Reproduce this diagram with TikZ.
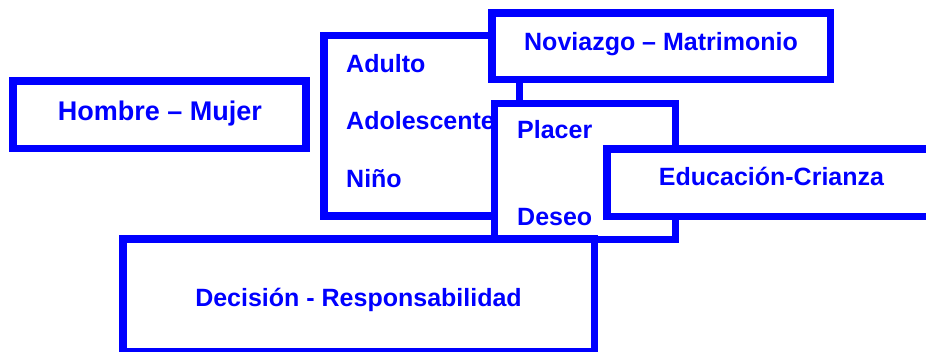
\documentclass[tikz,border=0pt]{standalone}
\usepackage{fontspec}
\setmainfont{Liberation Sans}
\definecolor{dblue}{RGB}{0,0,255}
\begin{document}
\begin{tikzpicture}[x=1pt,y=-1pt,
  box/.style={draw=dblue,fill=white,line width=7.5pt,inner sep=0pt,outer sep=0pt},
  lbl/.style={text=dblue,inner sep=0pt,font=\fontsize{25}{30}\selectfont\bfseries},
  biglbl/.style={text=dblue,inner sep=0pt,font=\fontsize{27}{32}\selectfont\bfseries}]
\useasboundingbox (0,0) rectangle (926,351);
% Hombre - Mujer
\node[box,minimum width=293pt,minimum height=67.5pt] (hm) at (159.5,114.75) {};
\node[biglbl,anchor=base] (hmt) at (160,120.7) {Hombre – Mujer};
% Life stages
\node[box,minimum width=195.5pt,minimum height=180.5pt] (life) at (421.75,125.75) {};
\node[lbl,anchor=base west] (adulto) at (346,72) {Adulto};
\node[lbl,anchor=base west] (adol) at (346,129) {Adolescente};
\node[lbl,anchor=base west] (nino) at (346,187) {Niño};
% Noviazgo
\node[box,minimum width=338.5pt,minimum height=66.5pt] (nov) at (661.25,46.25) {};
\node[lbl,anchor=base] (novt) at (661,50) {Noviazgo – Matrimonio};
% Placer / Deseo
\node[box,minimum width=181pt,minimum height=136pt] (pl) at (585,171.5) {};
\node[lbl,anchor=base west] (placer) at (517,138.3) {Placer};
\node[lbl,anchor=base west] (deseo) at (517,225) {Deseo};
% Educacion
\node[box,minimum width=329pt,minimum height=67.5pt] (edu) at (771.5,182.75) {};
\node[lbl,anchor=base] (edut) at (771.5,185) {Educación-Crianza};
% Decision
\node[box,minimum width=471.5pt,minimum height=112.5pt] (dec) at (358.75,295.25) {};
\node[lbl,anchor=base] (dect) at (358.5,306) {Decisión - Responsabilidad};
\end{tikzpicture}
\end{document}
